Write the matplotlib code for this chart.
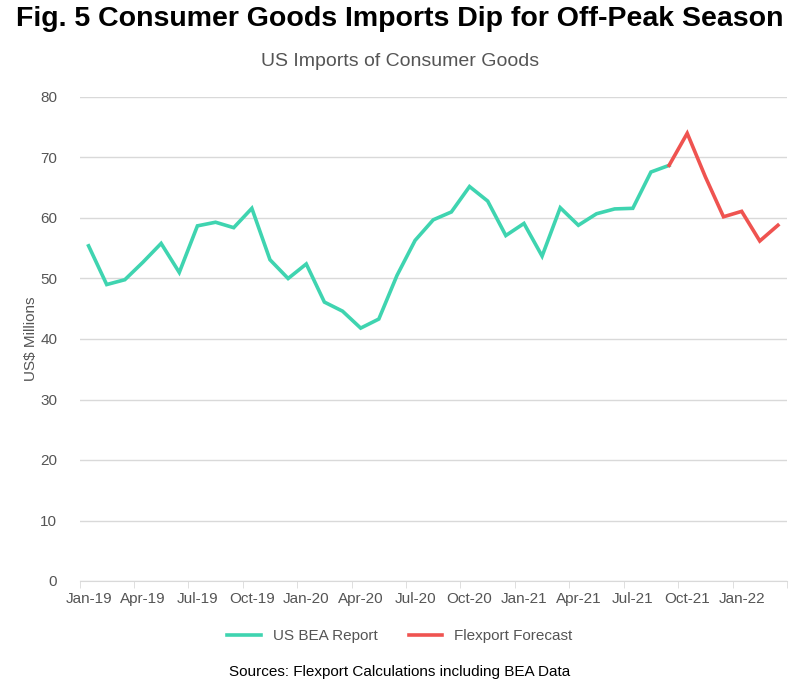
import numpy as np
import matplotlib.pyplot as plt

plt.rcParams['font.family'] = ['Liberation Sans', 'DejaVu Sans']

months = ['Jan-19', 'Feb-19', 'Mar-19', 'Apr-19', 'May-19', 'Jun-19', 'Jul-19', 'Aug-19', 'Sep-19',
          'Oct-19', 'Nov-19', 'Dec-19', 'Jan-20', 'Feb-20', 'Mar-20', 'Apr-20', 'May-20', 'Jun-20',
          'Jul-20', 'Aug-20', 'Sep-20', 'Oct-20', 'Nov-20', 'Dec-20', 'Jan-21', 'Feb-21', 'Mar-21',
          'Apr-21', 'May-21', 'Jun-21', 'Jul-21', 'Aug-21', 'Sep-21', 'Oct-21', 'Nov-21', 'Dec-21',
          'Jan-22', 'Feb-22', 'Mar-22']

bea = [55.4, 49.0, 49.8, 52.7, 55.8, 51.0, 58.7, 59.3, 58.4,
       61.6, 53.1, 50.0, 52.4, 46.1, 44.6, 41.8, 43.3, 50.5,
       56.3, 59.7, 61.0, 65.2, 62.8, 57.1, 59.1, 53.7, 61.7,
       58.8, 60.7, 61.5, 61.6, 67.6, 68.7]

forecast = [68.7, 74.0, 66.8, 60.2, 61.1, 56.2, 58.8]

teal = '#3fd4b0'
red = '#ef5350'
grey = '#555555'

fig = plt.figure(figsize=(8, 6.93), dpi=100)
ax = fig.add_axes([79.5 / 800, 1 - 581 / 693, (787 - 79.5) / 800, (581 - 97) / 693])

x_bea = np.arange(len(bea))
x_fc = np.arange(len(bea) - 1, len(bea) - 1 + len(forecast))

ax.plot(x_bea, bea, color=teal, lw=2.6, solid_joinstyle='miter', label='US BEA Report')
ax.plot(x_fc, forecast, color=red, lw=2.6, solid_joinstyle='miter', label='Flexport Forecast')

ax.set_xlim(-0.5, len(months) - 0.5)
ax.set_ylim(0, 80)
ax.set_yticks(np.arange(0, 81, 10))
ax.grid(axis='y', color='#d9d9d9', lw=1)
ax.set_axisbelow(True)

# month labels every 3 months, tick marks on category boundaries
ax.set_xticks(np.arange(0, len(months), 3))
ax.set_xticklabels(months[::3])
ax.set_xticks(np.arange(-0.5, len(months), 3), minor=True)
ax.tick_params(axis='x', which='major', length=0, pad=8, labelsize=11, labelcolor=grey)
ax.tick_params(axis='x', which='minor', length=5, color='#d9d9d9')
ax.tick_params(axis='y', length=0, pad=16, labelsize=11, labelcolor=grey)

for s in ['top', 'right', 'left']:
    ax.spines[s].set_visible(False)
ax.spines['bottom'].set_color('#d9d9d9')

ax.set_ylabel('US$ Millions', fontsize=11, color=grey, labelpad=2)

fig.text(0.5, 1 - 19 / 693, 'Fig. 5 Consumer Goods Imports Dip for Off-Peak Season',
         ha='center', va='center', fontsize=20.5, fontweight='bold', color='black')
fig.text(0.5, 1 - 62 / 693, 'US Imports of Consumer Goods',
         ha='center', va='center', fontsize=14, color=grey)

fig.legend(loc='center', bbox_to_anchor=(0.5, 1 - 636 / 693), ncol=2, frameon=False,
           fontsize=11, handlelength=2.2, columnspacing=2.0, labelcolor=grey)

fig.text(0.5, 1 - 672 / 693, 'Sources: Flexport Calculations including BEA Data',
         ha='center', va='center', fontsize=11, color='black')

fig.savefig('out.png', dpi=100)
